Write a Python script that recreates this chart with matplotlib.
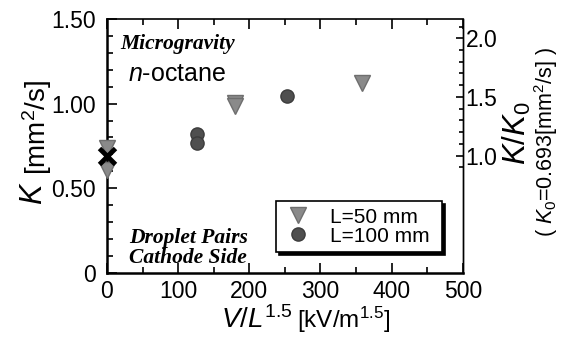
import numpy as np
import matplotlib
matplotlib.use('Agg')
import matplotlib.pyplot as plt
from matplotlib.ticker import MultipleLocator, FixedLocator

plt.rcParams['font.family'] = ['Liberation Sans', 'DejaVu Sans']
plt.rcParams['mathtext.fontset'] = 'custom'
plt.rcParams['mathtext.rm'] = 'Liberation Sans'
plt.rcParams['mathtext.it'] = 'Liberation Sans:italic'

# data
L50_x = [0, 0, 180, 180, 358]
L50_y = [0.74, 0.61, 1.005, 0.985, 1.12]
L100_x = [126, 126, 253]
L100_y = [0.82, 0.77, 1.045]
K0 = 0.693
x_ticks = [0, 100, 200, 300, 400, 500]
y_ticks = [0, 0.5, 1.0, 1.5]
y_ticklabels = ['0', '0.50', '1.00', '1.50']
r_ticks = [1.0, 1.5, 2.0]
r_minor = [0.9, 1.1, 1.2, 1.3, 1.4, 1.6, 1.7, 1.8, 1.9, 2.1]

fig = plt.figure(figsize=(5.63, 3.45), dpi=100)
ax = fig.add_axes([0.190, 0.209, 0.632, 0.736])

ax.plot(L50_x, L50_y, 'v', color='#8a8a8a', mec='#6e6e6e', ms=12, mew=1,
        clip_on=False, zorder=4, label='L=50 mm')
ax.plot(L100_x, L100_y, 'o', color='#4f4f4f', mec='#3c3c3c', ms=9.5, mew=1,
        clip_on=False, zorder=4, label='L=100 mm')
ax.plot([0], [K0], 'x', color='k', ms=12, mew=3.5, clip_on=False, zorder=5)

ax.set_xlim(0, 500)
ax.set_ylim(0, 1.5)
ax.set_xticks(x_ticks)
ax.xaxis.set_minor_locator(MultipleLocator(50))
ax.set_yticks(y_ticks)
ax.set_yticklabels(y_ticklabels)
ax.yaxis.set_minor_locator(MultipleLocator(0.1))
ax.tick_params(axis='both', which='both', direction='in', labelsize=16.5)
ax.tick_params(axis='x', which='major', length=7, width=1.2, top=True, pad=5)
ax.tick_params(axis='x', which='minor', length=4, width=1.2, top=True)
ax.tick_params(axis='y', which='major', length=7, width=1.2, pad=8)
ax.tick_params(axis='y', which='minor', length=4, width=1.2)
for s in ['left', 'bottom']:
    ax.spines[s].set_linewidth(1.8)
ax.spines['top'].set_linewidth(1.2)
ax.spines['right'].set_linewidth(1.0)

# right axis K/K0
ax2 = ax.twinx()
ax2.set_ylim(0, 1.5 / K0)
ax2.yaxis.set_major_locator(FixedLocator(r_ticks))
ax2.yaxis.set_minor_locator(FixedLocator(r_minor))
ax2.set_yticklabels(['1.0', '1.5', '2.0'])
ax2.tick_params(axis='y', which='both', direction='in', labelsize=16.5, pad=2)
ax2.tick_params(axis='y', which='major', length=5, width=1.2)
ax2.tick_params(axis='y', which='minor', length=3, width=1.2)
for s in ['left', 'bottom', 'top']:
    ax2.spines[s].set_visible(False)
ax2.spines['right'].set_linewidth(1.0)

# axis labels
ax.text(0.522, -0.217, r'$V/L^{1.5}$', transform=ax.transAxes,
        ha='right', va='baseline', fontsize=20)
ax.text(0.535, -0.217, r'[kV/m$^{1.5}$]', transform=ax.transAxes,
        ha='left', va='baseline', fontsize=17.5)
ax.text(-0.183, 0.268, r'$K$', transform=ax.transAxes, rotation=90,
        rotation_mode='anchor', ha='left', va='baseline', fontsize=22)
ax.text(-0.170, 0.385, r'[mm$^2$/s]', transform=ax.transAxes, rotation=90,
        rotation_mode='anchor', ha='left', va='baseline', fontsize=20)
ax.text(1.176, 0.425, r'$K/K_0$', transform=ax.transAxes, rotation=90,
        rotation_mode='anchor', ha='left', va='baseline', fontsize=22.5)
ax.text(1.234, 0.515, r'( $K_0$=0.693[mm$^2$/s] )', transform=ax.transAxes,
        rotation=90, ha='center', va='center', fontsize=15.5)

# annotations
ax.text(0.037, 0.902, 'Microgravity', transform=ax.transAxes, ha='left',
        va='center', family='Liberation Serif', style='italic',
        weight='bold', fontsize=15.5)
ax.text(0.059, 0.783, r'$n$-octane', transform=ax.transAxes, ha='left',
        va='center', fontsize=18)
ax.text(0.228, 0.100, 'Droplet Pairs\nCathode Side', transform=ax.transAxes,
        ha='center', va='center', family='Liberation Serif', style='italic',
        weight='bold', fontsize=15.5, linespacing=1.0)

leg = ax.legend(loc='lower left', bbox_to_anchor=(0.475, 0.083, 0.466, 0.213),
                mode='expand', fontsize=15, frameon=True, fancybox=False,
                shadow={'color': 'black', 'alpha': 1}, labelspacing=0.0,
                handletextpad=0.8, borderpad=0.3, handlelength=1.5,
                borderaxespad=0)
leg.get_frame().set_edgecolor('black')
leg.get_frame().set_linewidth(1.2)
leg.get_frame().set_alpha(1)

fig.savefig('out.png', dpi=100)
